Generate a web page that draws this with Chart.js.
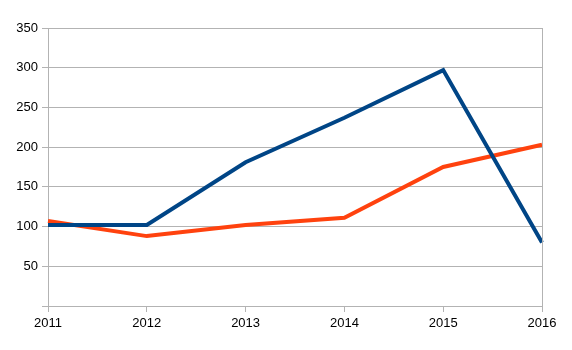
<!DOCTYPE html>
<html>
<head>
<meta charset="utf-8">
<script src="https://cdn.jsdelivr.net/npm/chart.js@4"></script>
<style>
  html, body { margin: 0; padding: 0; background: #fff; }
  #wrap { width: 572px; height: 350px; }
</style>
</head>
<body>
<div id="wrap"><canvas id="lineChart" width="572" height="350"></canvas></div>
<script>
// yearly values for the two series
var years = ['2011', '2012', '2013', '2014', '2015', '2016'];
var seriesBlue = [102, 102, 181, 237, 297, 80];
var seriesOrange = [107, 88, 102, 111, 175, 203];
var yTicks = [0, 50, 100, 150, 200, 250, 300, 350];

var gridGrey = '#b3b3b3';

var ctx = document.getElementById('lineChart').getContext('2d');
var chartYears = new Chart(ctx, {
    type: 'line',
    data: {
        labels: years,
        datasets: [{
            data: seriesBlue,
            borderColor: '#004586',
            borderWidth: 4,
            pointRadius: 0,
            tension: 0,
            fill: false
        }, {
            data: seriesOrange,
            borderColor: '#ff420e',
            borderWidth: 4,
            pointRadius: 0,
            tension: 0,
            fill: false
        }]
    },
    options: {
        responsive: false,
        animation: false,
        layout: { padding: { left: 0, right: 30, top: 28, bottom: 0 } },
        plugins: { legend: { display: false }, tooltip: { enabled: false } },
        scales: {
            x: {
                offset: false,
                grid: {
                    color: gridGrey,
                    drawOnChartArea: false,
                    tickLength: 6
                },
                border: { color: gridGrey },
                ticks: {
                    color: '#000',
                    font: { family: 'Liberation Sans', size: 13 },
                    padding: 4,
                    maxRotation: 0
                },
                afterFit: function (scale) { scale.height = 44; }
            },
            y: {
                min: 0,
                max: 350,
                afterBuildTicks: function (scale) {
                    scale.ticks = yTicks.map(function (v) { return { value: v }; });
                },
                grid: {
                    color: gridGrey,
                    tickLength: 6
                },
                border: { color: gridGrey },
                ticks: {
                    color: '#000',
                    font: { family: 'Liberation Sans', size: 13 },
                    padding: 4,
                    callback: function (v) { return v === 0 ? '' : v; }
                },
                afterFit: function (scale) { scale.width = 48; }
            }
        }
    },
    plugins: [{
        // closing line on the right side of the plot area
        id: 'rightEdge',
        afterDraw: function (chart) {
            var a = chart.chartArea;
            var c = chart.ctx;
            c.save();
            c.strokeStyle = gridGrey;
            c.lineWidth = 1;
            c.beginPath();
            c.moveTo(Math.round(a.right) + 0.5, a.top);
            c.lineTo(Math.round(a.right) + 0.5, a.bottom);
            c.stroke();
            c.restore();
        }
    }]
});
</script>
</body>
</html>
